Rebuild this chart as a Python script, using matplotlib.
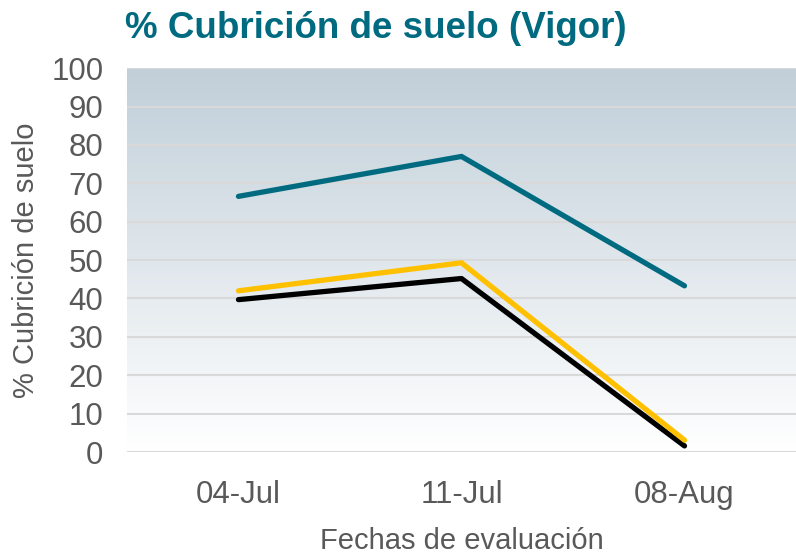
import numpy as np
import matplotlib.pyplot as plt
from matplotlib.colors import LinearSegmentedColormap

plt.rcParams['font.family'] = ['Liberation Sans', 'DejaVu Sans']

fechas = ['04-Jul', '11-Jul', '08-Aug']
serie_azul = [66.6, 77.0, 43.3]
serie_amarilla = [42.0, 49.3, 3.1]
serie_negra = [39.7, 45.2, 1.6]

fig = plt.figure(figsize=(7.96, 5.54), dpi=100)
ax = fig.add_axes([0.1595, 0.184, 0.8405, 0.693])

x = np.arange(len(fechas))
ax.set_xlim(-0.5, 2.5)
ax.set_ylim(0, 100)

# fondo degradado
cmap = LinearSegmentedColormap.from_list('fondo', ['#ffffff', '#c1cfd9'])
grad = np.linspace(0, 1, 256).reshape(-1, 1)
ax.imshow(grad, extent=[-0.5, 2.5, 0, 100], origin='lower', aspect='auto',
          cmap=cmap, zorder=0)

ax.set_yticks(np.arange(0, 101, 10))
ax.grid(axis='y', color='#d9d9d9', linewidth=1.5, zorder=1)
ax.set_axisbelow(False)

ax.plot(x, serie_azul, color='#006b80', lw=3.8, solid_capstyle='round', zorder=3)
ax.plot(x, serie_negra, color='#000000', lw=3.8, solid_capstyle='round', zorder=3)
ax.plot(x, serie_amarilla, color='#ffc000', lw=3.8, solid_capstyle='round', zorder=4)

ax.set_xticks(x)
ax.set_xticklabels(fechas)
for s in ax.spines.values():
    s.set_visible(False)
ax.tick_params(length=0, labelsize=22.5, colors='#595959', pad=17)
ax.tick_params(axis='x', pad=20)

ax.set_ylabel('% Cubrición de suelo', fontsize=21, color='#595959', labelpad=8)
ax.set_xlabel('Fechas de evaluación', fontsize=21, color='#595959', labelpad=12)

fig.text(0.157, 0.949, '% Cubrición de suelo (Vigor)', fontsize=26.5, fontweight='bold',
         color='#006b80', va='center', ha='left')

fig.savefig('out.png', dpi=100)
